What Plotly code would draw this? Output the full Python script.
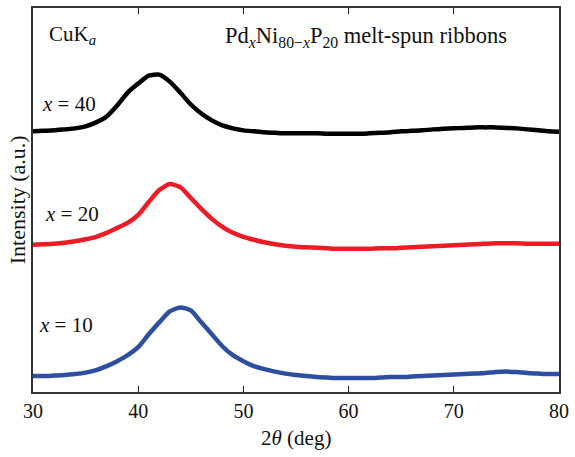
import plotly.graph_objects as go

two_theta = list(range(30, 81))

# x = 40 (black), stacked intensity in a.u.
int_x40 = [262, 262.5, 263, 264, 265, 267, 271, 277, 288, 301, 310, 318, 319, 312, 301,
           289, 280, 273, 268, 265, 263, 262, 261, 260.5, 260, 260, 260, 260, 259.5, 259.5,
           259.5, 259.5, 260, 260.5, 261, 262, 262.5, 263, 264, 264.5, 265, 265.5, 266, 266,
           266, 265.5, 265, 264, 263, 262, 261.5]
# x = 20 (red)
int_x20 = [148, 148.5, 149, 150, 151.5, 153.5, 156, 160, 165, 170, 178, 191, 203, 209, 206,
           195, 184, 174, 166, 160, 156, 153, 150.5, 148.5, 147, 146, 145.5, 145, 144.5, 144,
           144, 144, 144, 144.5, 144.5, 145, 145.5, 146, 146.5, 147, 147.5, 148, 148.5, 149,
           149.5, 149.5, 149.5, 149, 149, 149, 149]
# x = 10 (blue)
int_x10 = [16, 16, 16.5, 17, 18, 19.5, 22, 26, 31, 37, 45, 58, 70, 81, 85, 82, 70, 58, 46, 37,
           31, 26, 23, 20.5, 18.5, 17, 16, 15, 14.5, 14, 14, 14, 14, 14.5, 15, 15, 15.5, 16,
           16.5, 17, 17.5, 18, 18.5, 19, 20, 20.5, 20, 19, 18.5, 18, 18]

x_ticks = [30, 40, 50, 60, 70, 80]

FONT = "Liberation Serif"

fig = go.Figure()
for vals, col in [(int_x40, "#000000"), (int_x20, "#ED1C24"), (int_x10, "#2E4F9F")]:
    fig.add_trace(go.Scatter(x=two_theta, y=vals, mode="lines",
                             line=dict(color=col, width=4.5, shape="spline", smoothing=0.6),
                             showlegend=False, hoverinfo="skip"))

ann = dict(xref="paper", yref="paper", showarrow=False,
           font=dict(family=FONT, size=21, color="#111"))
fig.update_layout(
    width=575, height=457,
    margin=dict(l=33, r=13, t=6, b=65),
    paper_bgcolor="white", plot_bgcolor="white",
    font=dict(family=FONT, size=20, color="#111"),
    xaxis=dict(range=[30, 80], tickvals=x_ticks, ticks="inside", ticklen=6,
               tickcolor="#222", showline=True, linecolor="#333", linewidth=1.5,
               mirror="ticks", showgrid=False, zeroline=False,
               tickfont=dict(family=FONT, size=20)),
    yaxis=dict(range=[0, 386], showticklabels=False, ticks="", showline=True,
               linecolor="#333", linewidth=1.5, mirror=True, showgrid=False,
               zeroline=False),
    annotations=[
        dict(ann, x=0.026, y=0.930, xanchor="left", yanchor="middle",
             text="CuK<sub><i>a</i></sub>"),
        dict(ann, x=0.361, y=0.925, xanchor="left", yanchor="middle",
             text="Pd<sub><i>x</i></sub>Ni<sub>80−<i>x</i></sub>P<sub>20</sub> melt-spun ribbons",
             font=dict(family=FONT, size=22.5, color="#111")),
        dict(ann, x=0.013, y=0.749, xanchor="left", yanchor="middle",
             text="<i>x</i> = 40"),
        dict(ann, x=0.019, y=0.464, xanchor="left", yanchor="middle",
             text="<i>x</i> = 20"),
        dict(ann, x=0.0076, y=0.174, xanchor="left", yanchor="middle",
             text="<i>x</i> = 10"),
        dict(ann, x=0.5, y=-0.119, xanchor="center", yanchor="middle",
             text="2<i>θ</i> (deg)"),
        dict(ann, x=-0.030, y=0.5, xanchor="center", yanchor="middle",
             textangle=-90, text="Intensity (a.u.)",
             font=dict(family=FONT, size=22, color="#111")),
    ],
)

fig.write_html("out.html", config={"displayModeBar": False},
               post_script="document.body.style.margin='0';document.body.style.overflow='hidden';")
